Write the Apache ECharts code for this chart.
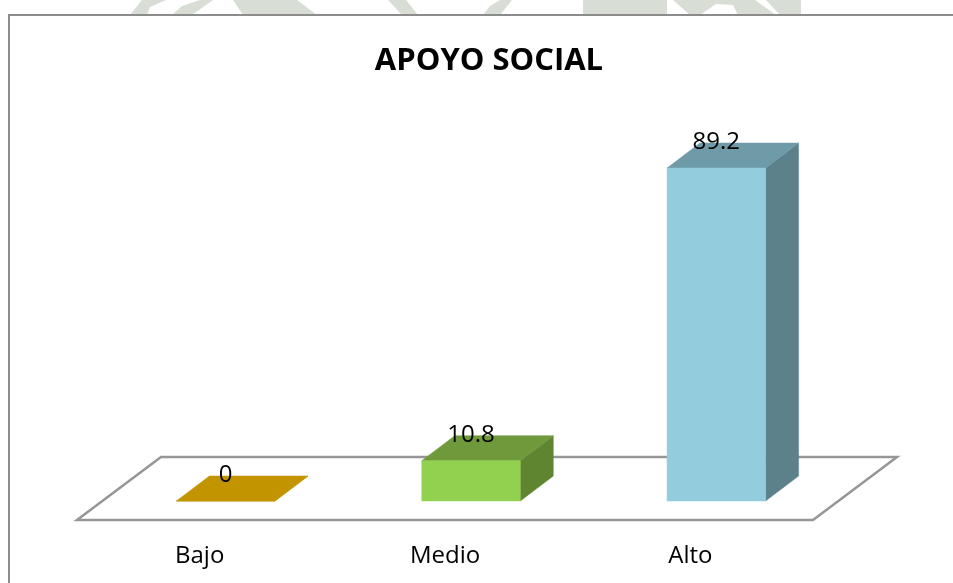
<!DOCTYPE html>
<html><head><meta charset="utf-8">
<style>html,body{margin:0;padding:0;background:#fff}#c{width:953px;height:583px}</style>
<script src="https://cdn.jsdelivr.net/npm/echarts@6/dist/echarts.min.js"></script>
</head><body><div id="c"></div>
<script>
const categories = ['Bajo', 'Medio', 'Alto'];
const values = [0, 10.8, 89.2];
const titleText = 'APOYO SOCIAL';
const frontColors = ['#c29500', '#92d050', '#93cddd'];
const topColors = ['#c29500', '#6f9a3c', '#6f9ba8'];
const sideColors = ['#c29500', '#5f8531', '#5d818b'];

const FONT = '"Open Sans", "Noto Sans", sans-serif';
const DX = 33, DY = -25, FLOOR_DX = 84, FLOOR_DY = -63, BAR_W = 98.5, OFF_X = 26, OFF_Y = -19;

// faint page watermark showing above the chart frame
const watermark = [
  [[130,15],[142,0],[166,0],[150,7],[147,15]],
  [[172,15],[182,6],[200,0],[213,0],[192,15]],
  [[243,15],[233,0],[297,0],[317,15]],
  [[388,0],[406,0],[418,15],[402,15]],
  [[483,15],[490,6],[500,0],[512,0],[500,15]],
  [[583,0],[667,0],[667,15],[583,15]],
  [[673,0],[755,0],[776,15],[738,15],[733,5],[716,4],[700,15],[690,15]],
  [[766,0],[801,0],[801,15],[780,15]]
];

const chart = echarts.init(document.getElementById('c'), null, {renderer: 'canvas'});
chart.setOption({
  animation: false,
  backgroundColor: '#fff',
  title: {text: titleText, left: 484, top: 41, textAlign: 'center',
    textStyle: {fontFamily: FONT, fontWeight: 'bold', fontSize: 31, color: '#000'}},
  grid: {left: 77, width: 736, top: 146.7, height: 373.3},
  xAxis: {type: 'category', data: categories,
    axisLine: {show: false}, axisTick: {show: false},
    axisLabel: {margin: 24, fontFamily: FONT, fontSize: 24, color: '#000'}},
  yAxis: {type: 'value', min: 0, max: 100, show: false, splitLine: {show: false}},
  series: [
    {type: 'custom', silent: true, coordinateSystem: 'cartesian2d', data: [[0, 0]], z: 1,
     renderItem(params, api) {
       const c = params.coordSys;
       const b = c.y + c.height;
       return {type: 'polygon', shape: {points: [[c.x, b], [c.x + c.width, b],
           [c.x + c.width + FLOOR_DX, b + FLOOR_DY], [c.x + FLOOR_DX, b + FLOOR_DY]]},
         style: {fill: '#fff', stroke: '#969696', lineWidth: 2.5}};
     }},
    {type: 'custom', coordinateSystem: 'cartesian2d', z: 2,
     data: values.map((v, i) => [i, v]),
     encode: {x: 0, y: 1},
     renderItem(params, api) {
       const i = api.value(0), v = api.value(1);
       const top = api.coord([i, v]), base = api.coord([i, 0]);
       const xl = top[0] - BAR_W / 2 + OFF_X, xr = xl + BAR_W;
       const yt = top[1] + OFF_Y, yb = base[1] + OFF_Y;
       const poly = (pts, fill) => ({type: 'polygon', shape: {points: pts}, style: {fill, stroke: fill, lineWidth: 0.5}});
       return {type: 'group', children: [
         poly([[xr, yt], [xr + DX, yt + DY], [xr + DX, yb + DY], [xr, yb]], sideColors[i]),
         poly([[xl, yt], [xr, yt], [xr + DX, yt + DY], [xl + DX, yt + DY]], topColors[i]),
         poly([[xl, yt], [xr, yt], [xr, yb], [xl, yb]], frontColors[i]),
         {type: 'text', z2: 10, style: {text: String(v), x: (xl + xr) / 2, y: yt - 26, align: 'center', verticalAlign: 'middle',
           font: '24px ' + FONT, fill: '#000'}}
       ]};
     }}
  ],
  graphic: [
    ...watermark.map(points => ({type: 'polygon', silent: true, z: -2, shape: {points}, style: {fill: '#d8ded5'}})),
    {type: 'rect', silent: true, z: -1, shape: {x: 9, y: 15, width: 960, height: 580},
     style: {fill: '#fff', stroke: '#8c8c8c', lineWidth: 2}}
  ]
});
</script></body></html>
